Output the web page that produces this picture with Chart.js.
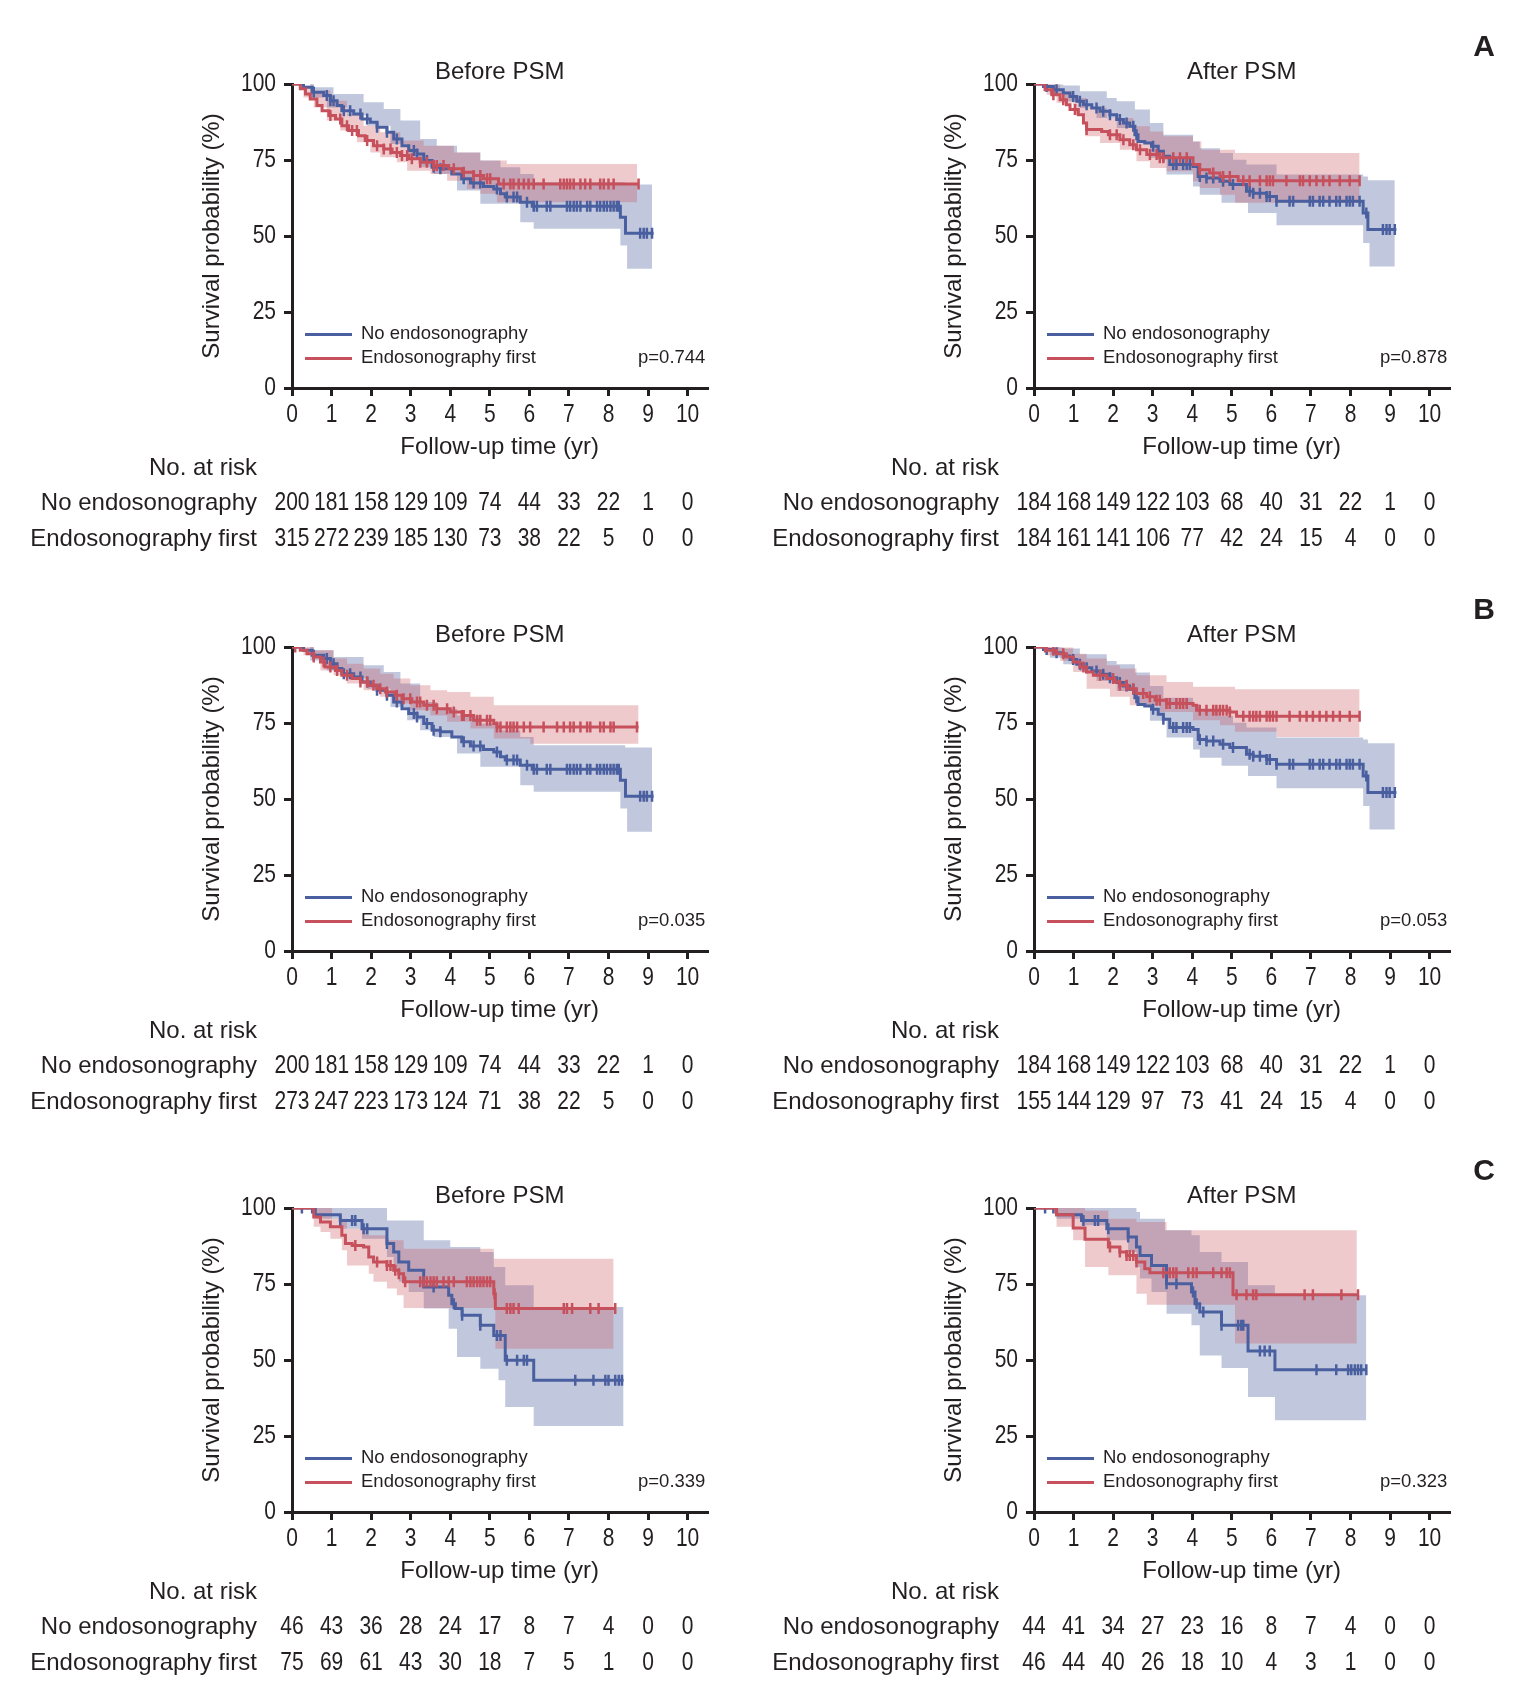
<!DOCTYPE html>
<html lang="en">
<head>
<meta charset="UTF-8">
<title>Survival - Endosonography</title>
<script src="https://cdn.jsdelivr.net/npm/chart.js"></script>
<style>
    body { margin: 0; background: #fff; }
    .painel { position: absolute; }
</style>
</head>
<body>
<canvas id="aBefore" class="painel" width="762" height="563" style="left:0;top:0"></canvas>
<canvas id="aAfter" class="painel" width="762" height="563" style="left:762px;top:0"></canvas>
<canvas id="bBefore" class="painel" width="762" height="563" style="left:0;top:563px"></canvas>
<canvas id="bAfter" class="painel" width="762" height="563" style="left:762px;top:563px"></canvas>
<canvas id="cBefore" class="painel" width="762" height="563" style="left:0;top:1124px"></canvas>
<canvas id="cAfter" class="painel" width="762" height="563" style="left:762px;top:1124px"></canvas>

<script>
// ---- data (years, survival %) ----
const riskYears = [0, 1, 2, 3, 4, 5, 6, 7, 8, 9, 10];
const yTicks = [0, 25, 50, 75, 100];

// No endosonography, before PSM (panels A and B are the same group)
const noBeforeCurve = [[0,100],[0.29,98.9],[0.51,97.3],[0.80,96.2],[0.97,94.5],[1.14,92.9],[1.26,91.2],[1.56,90.1],[1.77,88.5],[1.98,87.4],[2.15,85.8],[2.40,84.1],[2.57,81.9],[2.78,79.7],[2.95,78.1],[3.16,77.0],[3.33,74.8],[3.54,72.6],[3.75,72.1],[4.04,70.4],[4.29,68.8],[4.51,67.4],[4.84,66.3],[5.10,65.5],[5.27,63.9],[5.39,62.8],[5.77,61.1],[6.07,59.8],[8.30,56.2],[8.43,50.9],[9.14,50.9]];
const noBeforeUpper = [[0,100],[0.55,98.9],[1.05,96.7],[1.81,94.0],[2.32,91.8],[2.74,88.0],[3.24,81.9],[3.66,79.7],[4.17,77.5],[4.76,74.8],[5.27,72.6],[5.77,70.4],[6.11,67.7],[8.42,66.9],[9.10,66.9]];
const noBeforeLower = [[0,100],[0.46,95.6],[0.88,92.3],[1.39,89.6],[1.90,86.3],[2.49,80.3],[2.91,75.9],[3.24,72.6],[3.58,70.4],[4.17,65.0],[4.76,60.6],[5.77,54.5],[6.11,52.4],[8.30,46.9],[8.47,39.2],[9.10,39.2]];
const noBeforeCensor = [0.55,0.88,0.97,1.05,1.31,1.47,1.73,1.90,2.15,2.40,2.65,3.08,3.16,3.41,3.58,3.75,4.34,4.59,4.76,5.18,5.43,5.60,5.69,5.94,6.11,6.19,6.44,6.53,6.95,7.03,7.12,7.20,7.29,7.46,7.54,7.71,7.79,7.88,7.96,8.05,8.13,8.21,8.26,8.80,8.89,8.97,9.10];

// Endosonography first, before PSM, panel A
const efBeforeACurve = [[0,100],[0.21,98.4],[0.34,96.7],[0.46,95.1],[0.63,92.9],[0.76,91.2],[0.93,89.6],[1.10,88.5],[1.26,86.3],[1.43,84.7],[1.68,83.0],[1.85,81.4],[2.06,79.7],[2.32,78.6],[2.53,77.5],[2.74,76.5],[2.95,75.4],[3.24,74.3],[3.58,73.2],[3.96,72.1],[4.30,71.0],[4.59,69.9],[4.84,68.8],[5.22,67.1],[8.76,67.1]];
const efBeforeAUpper = [[0,100],[0.21,99.5],[0.55,97.8],[0.97,94.5],[1.39,90.1],[1.81,86.3],[2.23,84.1],[2.74,81.4],[3.33,79.7],[4.09,77.5],[4.76,74.8],[5.43,73.7],[8.72,73.7]];
const efBeforeALower = [[0,100],[0.29,95.6],[0.55,92.3],[0.88,88.0],[1.22,84.7],[1.64,80.8],[1.98,77.5],[2.23,75.9],[2.65,74.3],[2.91,71.5],[3.50,70.4],[3.92,68.2],[4.42,65.5],[4.76,63.9],[5.18,61.1],[8.72,61.1]];
const efBeforeACensor = [0.97,1.22,1.39,1.52,1.64,1.90,2.15,2.32,2.49,2.65,2.78,2.91,3.03,3.24,3.41,3.58,3.66,3.83,4.09,4.34,4.59,4.76,4.93,5.01,5.35,5.52,5.60,5.73,5.86,5.98,6.11,6.36,6.78,6.87,6.95,7.03,7.12,7.29,7.41,7.54,7.79,7.88,8.00,8.13,8.76];

// No endosonography, after PSM (panels A and B)
const noAfterCurve = [[0,100],[0.24,99.2],[0.49,98.1],[0.74,97.0],[0.91,95.9],[1.08,94.3],[1.25,93.2],[1.46,92.1],[1.67,91.0],[1.92,89.9],[2.09,88.3],[2.26,87.2],[2.42,86.1],[2.55,83.3],[2.63,81.1],[2.80,80.6],[2.97,79.5],[3.14,77.9],[3.27,76.2],[3.43,73.5],[4.02,72.9],[4.15,69.6],[4.36,69.1],[4.70,68.0],[4.95,66.9],[5.37,64.7],[5.54,64.1],[5.88,63.0],[6.13,61.4],[8.32,57.6],[8.44,52.1],[9.16,52.1]];
const noAfterUpper = [[0,100],[0.32,99.8],[0.74,99.5],[1.16,97.6],[1.84,95.4],[2.09,94.3],[2.55,91.6],[2.93,87.2],[3.27,83.3],[4.02,81.1],[4.19,78.9],[4.70,77.3],[5.03,75.1],[5.37,73.5],[6.13,70.2],[8.32,69.6],[8.44,68.3],[9.12,68.3]];
const noAfterLower = [[0,100],[0.40,96.5],[0.74,94.3],[1.16,92.1],[1.58,88.8],[2.09,85.5],[2.59,80.6],[2.93,75.7],[3.35,70.2],[4.02,66.3],[4.19,63.6],[4.74,60.9],[5.41,57.6],[6.13,53.5],[8.32,47.7],[8.48,40.0],[9.12,40.0]];
const noAfterCensor = [0.32,0.57,0.99,1.16,1.33,1.58,1.75,1.92,2.17,2.34,2.51,2.59,3.01,3.27,3.52,3.60,3.77,3.86,3.94,4.19,4.36,4.53,4.78,5.03,5.45,5.54,5.71,5.88,5.96,6.13,6.46,6.55,6.97,7.05,7.22,7.31,7.47,7.64,7.73,7.90,7.98,8.06,8.23,8.40,8.82,8.91,8.99,9.12];

// Endosonography first, after PSM, panel A
const efAfterACurve = [[0,100],[0.28,98.1],[0.45,96.5],[0.66,94.8],[0.82,93.2],[0.91,91.6],[1.12,89.9],[1.25,87.2],[1.33,85.0],[1.71,84.4],[1.88,83.3],[2.17,81.7],[2.42,80.0],[2.59,78.4],[2.85,76.8],[3.18,75.7],[4.02,73.5],[4.19,71.8],[4.44,70.7],[4.70,69.6],[5.16,68.2],[8.23,68.2]];
const efAfterAUpper = [[0,100],[0.32,99.8],[0.66,97.6],[0.99,95.4],[1.33,92.1],[1.84,88.8],[2.51,86.1],[2.93,84.4],[3.27,82.8],[4.02,81.1],[4.23,78.4],[5.08,77.3],[8.23,77.3]];
const efAfterALower = [[0,100],[0.32,96.5],[0.57,93.8],[0.99,89.9],[1.29,82.8],[1.67,80.6],[2.17,78.4],[2.59,74.6],[2.93,72.4],[3.35,71.3],[4.02,68.0],[4.19,65.8],[4.70,63.6],[5.08,60.9],[8.23,60.9]];
const efAfterACensor = [0.49,0.74,1.04,1.33,1.92,2.09,2.26,2.51,2.68,2.93,3.10,3.18,3.27,3.52,3.69,3.86,4.19,4.53,4.78,4.95,5.29,5.45,5.71,5.88,5.96,6.04,6.38,6.72,6.80,6.97,7.14,7.31,7.47,7.73,7.98,8.23];

// Endosonography first, before PSM, panel B
const efBeforeBCurve = [[0,100],[0.21,98.9],[0.38,97.8],[0.55,96.7],[0.72,95.1],[0.84,93.4],[1.10,92.3],[1.26,90.7],[1.52,89.6],[1.73,88.5],[1.94,87.4],[2.15,86.3],[2.36,85.2],[2.61,84.1],[2.78,83.0],[3.03,81.9],[3.33,80.8],[3.66,79.7],[4.00,78.6],[4.30,77.5],[4.59,75.9],[5.10,74.8],[5.18,73.7],[8.76,73.7]];
const efBeforeBUpper = [[0,100],[0.55,98.9],[1.05,96.2],[1.39,94.5],[1.81,92.9],[2.23,91.2],[2.57,89.6],[2.99,87.4],[3.50,85.8],[3.92,85.2],[4.51,83.6],[5.10,80.8],[8.76,80.8]];
const efBeforeBLower = [[0,100],[0.29,97.3],[0.72,92.3],[1.05,90.7],[1.39,88.0],[1.81,85.8],[2.23,83.6],[2.57,81.4],[2.99,79.2],[3.50,77.5],[3.92,75.4],[4.51,73.2],[5.10,69.9],[6.02,68.2],[8.76,68.2]];
const efBeforeBCensor = [0.08,0.55,0.80,0.97,1.14,1.39,1.73,1.90,2.06,2.23,2.40,2.65,2.82,2.99,3.16,3.24,3.41,3.58,3.66,3.92,4.09,4.30,4.34,4.51,4.68,4.76,4.93,5.01,5.18,5.27,5.43,5.52,5.60,5.69,5.86,6.02,6.36,6.70,6.87,7.03,7.12,7.29,7.46,7.54,7.79,7.88,8.05,8.13,8.72];

// Endosonography first, after PSM, panel B
const efAfterBCurve = [[0,100],[0.32,98.9],[0.57,97.8],[0.82,96.7],[0.99,95.1],[1.16,93.4],[1.33,91.8],[1.50,90.7],[1.84,89.6],[2.05,88.5],[2.17,87.4],[2.38,86.3],[2.59,84.7],[2.85,83.6],[3.06,82.5],[3.35,81.4],[4.02,80.8],[4.11,79.2],[4.95,78.6],[5.12,77.2],[8.23,77.2]];
const efAfterBUpper = [[0,100],[0.66,99.8],[0.99,97.8],[1.33,96.2],[1.84,94.0],[2.17,92.9],[2.59,90.7],[3.35,88.5],[4.02,86.9],[5.08,86.1],[8.23,86.1]];
const efAfterBLower = [[0,100],[0.32,97.3],[0.66,95.4],[0.99,91.8],[1.33,86.3],[1.92,83.6],[2.42,80.8],[3.18,78.6],[4.02,75.9],[4.70,74.3],[5.08,72.1],[6.13,70.4],[8.23,70.4]];
const efAfterBCensor = [0.28,0.49,0.74,1.25,1.67,2.00,2.17,2.34,2.51,2.76,2.93,3.10,3.18,3.35,3.43,3.60,3.69,3.77,3.86,4.19,4.36,4.53,4.61,4.70,4.78,4.87,4.95,5.29,5.45,5.54,5.62,5.71,5.88,5.96,6.04,6.13,6.46,6.72,6.89,7.05,7.22,7.39,7.56,7.73,7.98,8.23];

// Panel C, before PSM
const noBeforeCCurve = [[0,100],[0.59,97.8],[1.22,95.9],[1.77,93.2],[2.40,88.3],[2.57,85.5],[2.70,82.2],[2.95,79.5],[3.33,74.0],[3.96,71.3],[4.04,68.5],[4.13,66.9],[4.30,64.7],[4.76,61.4],[5.10,58.1],[5.39,49.9],[6.11,43.3],[8.38,43.3]];
const noBeforeCUpper = [[0,100],[2.40,95.9],[3.33,89.4],[4.00,87.2],[4.76,85.5],[5.10,80.6],[5.39,74.6],[6.11,67.4],[8.38,67.4]];
const noBeforeCLower = [[0,100],[0.63,96.5],[1.22,93.2],[1.77,89.9],[2.40,83.9],[2.57,80.0],[2.70,75.7],[2.95,72.4],[3.33,66.9],[3.96,60.3],[4.17,51.0],[4.76,47.1],[5.22,43.3],[5.39,34.5],[6.11,28.3],[8.38,28.3]];
const noBeforeCCensor = [0.25,0.51,1.22,1.52,1.60,1.81,1.90,2.40,3.58,4.09,4.30,4.76,5.18,5.27,5.43,5.69,5.86,5.94,7.16,7.62,7.92,8.00,8.17,8.26,8.34];
const efBeforeCCurve = [[0,100],[0.55,97.0],[0.72,95.4],[0.97,93.8],[1.26,91.0],[1.35,88.3],[1.52,87.7],[1.81,87.2],[1.94,83.9],[2.06,82.2],[2.40,81.1],[2.57,79.5],[2.70,78.4],[2.82,75.7],[5.10,71.8],[5.14,66.9],[8.17,66.9]];
const efBeforeCUpper = [[0,100],[1.01,96.5],[1.39,93.2],[1.94,91.0],[2.40,89.4],[2.82,86.6],[5.10,83.3],[8.13,83.3]];
const efBeforeCLower = [[0,100],[0.55,93.8],[0.72,92.1],[0.97,89.9],[1.26,86.1],[1.39,81.1],[1.94,78.4],[2.06,75.7],[2.40,73.5],[2.65,71.3],[2.82,67.1],[5.14,53.7],[8.13,53.7]];
const efBeforeCCensor = [1.60,2.15,2.40,2.49,2.61,2.70,2.86,3.24,3.33,3.41,3.50,3.58,3.66,3.83,3.96,4.09,4.42,4.51,4.59,4.68,4.76,4.84,4.93,5.01,5.12,5.43,5.52,5.60,5.73,6.87,6.95,7.08,7.54,7.75,8.17];

// Panel C, after PSM
const noAfterCCurve = [[0,100],[0.57,97.8],[1.20,95.9],[1.84,93.2],[2.38,90.5],[2.59,87.2],[2.68,84.4],[2.97,81.1],[3.35,75.1],[3.98,72.4],[4.07,68.5],[4.19,65.8],[4.74,61.4],[5.41,53.0],[6.09,46.8],[8.40,46.8]];
const noAfterCUpper = [[0,100],[2.59,98.7],[2.68,96.5],[3.31,92.7],[3.98,91.0],[4.19,85.5],[4.74,82.2],[5.41,74.6],[6.09,71.3],[8.40,71.3]];
const noAfterCLower = [[0,100],[0.57,96.5],[1.20,94.3],[1.84,89.4],[2.38,85.5],[2.59,80.6],[2.68,76.8],[2.97,72.4],[3.35,65.2],[3.98,61.4],[4.19,51.5],[4.74,47.4],[5.41,37.8],[6.09,30.2],[8.40,30.2]];
const noAfterCCensor = [0.28,0.49,1.25,1.54,1.62,1.88,2.38,3.35,3.60,4.02,4.11,4.28,4.74,5.16,5.24,5.29,5.71,5.83,5.96,7.14,7.64,7.94,8.02,8.11,8.19,8.27,8.40];
const efAfterCCurve = [[0,100],[0.57,97.8],[0.99,93.4],[1.29,89.7],[1.88,87.2],[2.17,85.5],[2.34,84.4],[2.59,82.2],[2.80,80.0],[2.93,78.7],[5.03,71.5],[8.19,71.5]];
const efAfterCUpper = [[0,100],[1.29,99.2],[1.88,96.5],[2.59,95.4],[3.35,92.7],[8.16,92.7]];
const efAfterCLower = [[0,100],[0.57,93.8],[0.99,89.4],[1.29,80.6],[1.88,77.9],[2.59,71.8],[2.85,68.2],[5.08,55.4],[8.16,55.4]];
const efAfterCCensor = [0.55,1.92,2.17,2.34,2.42,2.51,2.59,3.27,3.43,3.52,3.60,3.90,4.02,4.11,4.53,4.74,4.87,4.95,5.12,5.37,5.54,5.62,6.84,7.05,7.77,8.19];

// No. at risk
const riskNoBeforeA = [200, 181, 158, 129, 109, 74, 44, 33, 22, 1, 0];
const riskEfBeforeA = [315, 272, 239, 185, 130, 73, 38, 22, 5, 0, 0];
const riskNoAfterA = [184, 168, 149, 122, 103, 68, 40, 31, 22, 1, 0];
const riskEfAfterA = [184, 161, 141, 106, 77, 42, 24, 15, 4, 0, 0];
const riskNoBeforeB = [200, 181, 158, 129, 109, 74, 44, 33, 22, 1, 0];
const riskEfBeforeB = [273, 247, 223, 173, 124, 71, 38, 22, 5, 0, 0];
const riskNoAfterB = [184, 168, 149, 122, 103, 68, 40, 31, 22, 1, 0];
const riskEfAfterB = [155, 144, 129, 97, 73, 41, 24, 15, 4, 0, 0];
const riskNoBeforeC = [46, 43, 36, 28, 24, 17, 8, 7, 4, 0, 0];
const riskEfBeforeC = [75, 69, 61, 43, 30, 18, 7, 5, 1, 0, 0];
const riskNoAfterC = [44, 41, 34, 27, 23, 16, 8, 7, 4, 0, 0];
const riskEfAfterC = [46, 44, 40, 26, 18, 10, 4, 3, 1, 0, 0];

const groupNames = ['No endosonography', 'Endosonography first'];

// ---- styles ----
const ink = '#231f20';
const blueLine = '#4a5f9f';
const redLine = '#c6505b';
const blueBand = 'rgba(74, 95, 159, 0.34)';
const redBand = 'rgba(198, 80, 91, 0.30)';
const textFont = "'Liberation Sans', Arial, sans-serif";
const numFont = "25px 'Liberation Sans', Arial, sans-serif";
const narrow = 0.84; // numbers are set in a condensed face in the original

function toPoints(pairs) {
    return pairs.map(p => ({ x: p[0], y: p[1] }));
}

// survival value of the curve at time t (for the censor ticks)
function survivalAt(curve, t) {
    let s = curve[0][1];
    for (const p of curve) {
        if (p[0] <= t) s = p[1];
    }
    return s;
}

function censorPoints(curve, times) {
    return times.map(t => ({ x: t, y: survivalAt(curve, t) }));
}

function bandSets(lower, upper, color, order) {
    return [
        { data: toPoints(lower), stepped: true, borderWidth: 0, borderColor: 'transparent', pointRadius: 0, fill: false, order: order },
        { data: toPoints(upper), stepped: true, borderWidth: 0, borderColor: 'transparent', pointRadius: 0, fill: '-1', backgroundColor: color, order: order }
    ];
}

function curveSets(curve, censor, color, order) {
    return [
        { data: toPoints(curve), stepped: true, borderColor: color, borderWidth: 3, pointRadius: 0, fill: false, order: order + 1 },
        { data: censorPoints(curve, censor), showLine: false, pointStyle: 'line', rotation: 90, pointRadius: 5.5, borderColor: color, borderWidth: 2.5, order: order }
    ];
}

function narrowText(ctx, text, x, y, align) {
    ctx.save();
    ctx.translate(x, y);
    ctx.scale(narrow, 1);
    ctx.textAlign = align;
    ctx.fillText(text, 0, 0);
    ctx.restore();
}

function drawTexts(chart, panel) {
    const ctx = chart.ctx;
    const area = chart.chartArea;
    const xs = chart.scales.x;
    const ys = chart.scales.y;
    const midX = (area.left + area.right) / 2;
    ctx.save();
    ctx.fillStyle = ink;
    ctx.textBaseline = 'middle';

    // tick labels
    ctx.font = numFont;
    xs.ticks.forEach(t => narrowText(ctx, String(t.value), xs.getPixelForValue(t.value), area.bottom + 27, 'center'));
    ys.ticks.forEach(t => narrowText(ctx, String(t.value), area.left - 16, ys.getPixelForValue(t.value), 'right'));

    // title
    ctx.font = '24px ' + textFont;
    ctx.textAlign = 'center';
    ctx.fillText(panel.title, midX, area.top - 12);

    // x axis title
    ctx.fillText('Follow-up time (yr)', midX, area.bottom + 59);

    // y axis title
    ctx.save();
    ctx.translate(area.left - 80, (area.top + area.bottom) / 2);
    ctx.rotate(-Math.PI / 2);
    ctx.fillText('Survival probability (%)', 0, 0);
    ctx.restore();

    // legend
    const legendY = [area.bottom - 53.6, area.bottom - 29.6];
    const legendColors = [blueLine, redLine];
    ctx.font = '18.5px ' + textFont;
    ctx.textAlign = 'left';
    for (let i = 0; i < 2; i++) {
        ctx.strokeStyle = legendColors[i];
        ctx.lineWidth = 3;
        ctx.beginPath();
        ctx.moveTo(area.left + 13, legendY[i]);
        ctx.lineTo(area.left + 60, legendY[i]);
        ctx.stroke();
        ctx.fillText(groupNames[i], area.left + 69, legendY[i]);
    }
    ctx.textAlign = 'right';
    ctx.fillText(panel.pValue, area.right - 2, legendY[1]);

    // number at risk
    const labelX = area.left - 35;
    ctx.font = '24px ' + textFont;
    ctx.fillText('No. at risk', labelX, area.bottom + 80);
    const rowY = [area.bottom + 115.6, area.bottom + 151.6];
    const rows = [panel.riskNo, panel.riskEf];
    for (let r = 0; r < 2; r++) {
        ctx.font = '24px ' + textFont;
        ctx.textAlign = 'right';
        ctx.fillText(groupNames[r], labelX, rowY[r]);
        ctx.font = numFont;
        for (let i = 0; i < riskYears.length; i++) {
            narrowText(ctx, String(rows[r][i]), xs.getPixelForValue(riskYears[i]), rowY[r], 'center');
        }
    }

    // panel letter
    if (panel.letter) {
        ctx.font = 'bold 30px ' + textFont;
        ctx.textAlign = 'center';
        ctx.fillText(panel.letter, 722, 48);
    }
    ctx.restore();
}

function plotPanel(panel) {
    const ctx = document.getElementById(panel.id);
    const config = {
        type: 'line',
        data: {
            datasets: [
                ...bandSets(panel.noLower, panel.noUpper, blueBand, 10),
                ...bandSets(panel.efLower, panel.efUpper, redBand, 9),
                ...curveSets(panel.noCurve, panel.noCensor, blueLine, 4),
                ...curveSets(panel.efCurve, panel.efCensor, redLine, 1)
            ]
        },
        options: {
            responsive: false,
            animation: false,
            events: [],
            layout: {
                padding: { left: 0, top: 84, right: 762 - panel.axisLeft - 415.4, bottom: 125 }
            },
            scales: {
                x: {
                    type: 'linear',
                    min: 0,
                    max: 10.5,
                    afterFit: s => { s.height = 50; },
                    ticks: { stepSize: 1, includeBounds: false, display: false },
                    grid: { drawOnChartArea: false, drawTicks: true, tickLength: 8, color: ink, lineWidth: 3 },
                    border: { color: ink, width: 3 }
                },
                y: {
                    min: 0,
                    max: 100,
                    afterFit: s => { s.width = panel.axisLeft; },
                    afterBuildTicks: s => { s.ticks = yTicks.map(v => ({ value: v })); },
                    ticks: { display: false },
                    grid: { drawOnChartArea: false, drawTicks: true, tickLength: 8, color: ink, lineWidth: 3 },
                    border: { color: ink, width: 3 }
                }
            },
            plugins: {
                legend: { display: false },
                tooltip: { enabled: false }
            }
        },
        plugins: [{ id: 'panelTexts', afterDraw: chart => drawTexts(chart, panel) }]
    };
    new Chart(ctx, config);
}

const panels = [
    { id: 'aBefore', title: 'Before PSM', pValue: 'p=0.744', letter: '', axisLeft: 292,
      noCurve: noBeforeCurve, noUpper: noBeforeUpper, noLower: noBeforeLower, noCensor: noBeforeCensor,
      efCurve: efBeforeACurve, efUpper: efBeforeAUpper, efLower: efBeforeALower, efCensor: efBeforeACensor,
      riskNo: riskNoBeforeA, riskEf: riskEfBeforeA },
    { id: 'aAfter', title: 'After PSM', pValue: 'p=0.878', letter: 'A', axisLeft: 272,
      noCurve: noAfterCurve, noUpper: noAfterUpper, noLower: noAfterLower, noCensor: noAfterCensor,
      efCurve: efAfterACurve, efUpper: efAfterAUpper, efLower: efAfterALower, efCensor: efAfterACensor,
      riskNo: riskNoAfterA, riskEf: riskEfAfterA },
    { id: 'bBefore', title: 'Before PSM', pValue: 'p=0.035', letter: '', axisLeft: 292,
      noCurve: noBeforeCurve, noUpper: noBeforeUpper, noLower: noBeforeLower, noCensor: noBeforeCensor,
      efCurve: efBeforeBCurve, efUpper: efBeforeBUpper, efLower: efBeforeBLower, efCensor: efBeforeBCensor,
      riskNo: riskNoBeforeB, riskEf: riskEfBeforeB },
    { id: 'bAfter', title: 'After PSM', pValue: 'p=0.053', letter: 'B', axisLeft: 272,
      noCurve: noAfterCurve, noUpper: noAfterUpper, noLower: noAfterLower, noCensor: noAfterCensor,
      efCurve: efAfterBCurve, efUpper: efAfterBUpper, efLower: efAfterBLower, efCensor: efAfterBCensor,
      riskNo: riskNoAfterB, riskEf: riskEfAfterB },
    { id: 'cBefore', title: 'Before PSM', pValue: 'p=0.339', letter: '', axisLeft: 292,
      noCurve: noBeforeCCurve, noUpper: noBeforeCUpper, noLower: noBeforeCLower, noCensor: noBeforeCCensor,
      efCurve: efBeforeCCurve, efUpper: efBeforeCUpper, efLower: efBeforeCLower, efCensor: efBeforeCCensor,
      riskNo: riskNoBeforeC, riskEf: riskEfBeforeC },
    { id: 'cAfter', title: 'After PSM', pValue: 'p=0.323', letter: 'C', axisLeft: 272,
      noCurve: noAfterCCurve, noUpper: noAfterCUpper, noLower: noAfterCLower, noCensor: noAfterCCensor,
      efCurve: efAfterCCurve, efUpper: efAfterCUpper, efLower: efAfterCLower, efCensor: efAfterCCensor,
      riskNo: riskNoAfterC, riskEf: riskEfAfterC }
];

panels.forEach(plotPanel);
</script>
</body>
</html>
